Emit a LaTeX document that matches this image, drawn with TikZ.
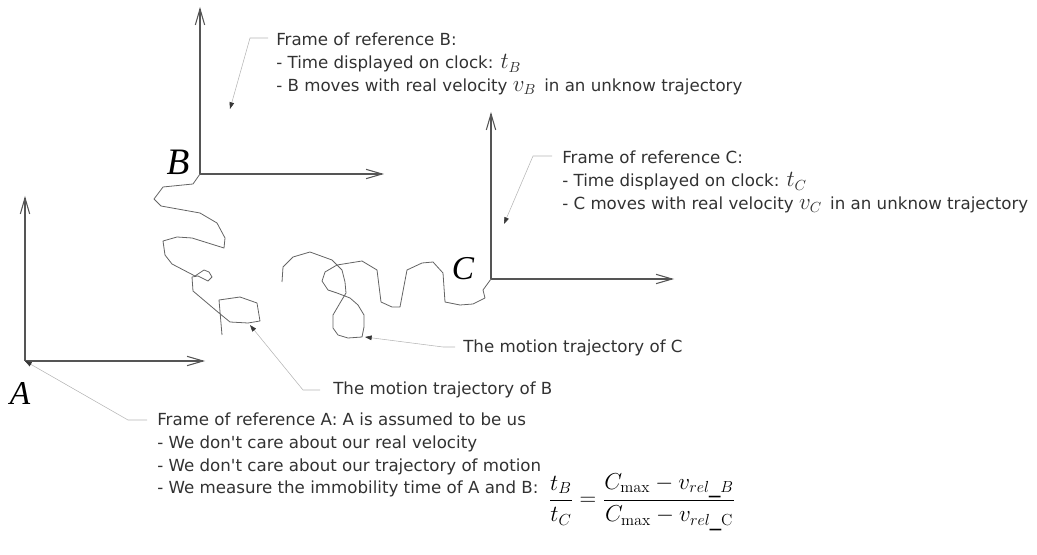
\documentclass[tikz,border=0pt]{standalone}
\usepackage[no-math]{fontspec}
\setmainfont{DejaVu Sans}
\newfontfamily\labelfont{Liberation Serif}
\usetikzlibrary{arrows.meta,positioning}
\definecolor{axisgray}{RGB}{85,85,85}
\definecolor{leadgray}{RGB}{180,180,180}
\definecolor{tipgray}{RGB}{55,55,55}
\definecolor{txtgray}{RGB}{50,50,50}
\definecolor{trajgray}{RGB}{100,100,100}
\newcommand{\notefont}{\fontsize{12.5}{17}\selectfont\lineskiplimit=-100pt\relax}
\newcommand{\bigsym}[1]{{\fontsize{16}{16}\selectfont$#1$}}

\begin{document}
\begin{tikzpicture}[x=0.75pt,y=-0.75pt,
    axis/.style={draw=axisgray,line width=0.8pt,-{Straight Barb[length=12pt,width=7pt]}},
    leader/.style={draw=leadgray,line width=0.4pt,{Triangle[length=5pt,width=3.5pt,color=tipgray]}-},
    trajectory/.style={draw=trajgray,line width=0.6pt,line join=round},
    note/.style={inner sep=0pt,align=left,text=txtgray,font=\notefont},
    framelabel/.style={inner sep=0pt,font=\labelfont\itshape\fontsize{25}{25}\selectfont}]
  \useasboundingbox (0,0) rectangle (1037,555);

  % Frame origins
  \coordinate (oA) at (25,361);
  \coordinate (oB) at (200,174);
  \coordinate (oC) at (491,279);

  % Axes
  \draw[axis] (oA) -- (25,196);
  \draw[axis] (oA) -- (205,361);
  \draw[axis] (oB) -- (200,7);
  \draw[axis] (oB) -- (384,174);
  \draw[axis] (oC) -- (491,112);
  \draw[axis] (oC) -- (674,279);

  % Frame labels
  \node[framelabel] (labA) at (20,393) {A};
  \node[framelabel,font=\labelfont\itshape\fontsize{28}{28}\selectfont] (labB) at (178,162) {B};
  \node[framelabel] (labC) at (463,269) {C};

  % Trajectory of B
  \draw[trajectory] (oB) -- (193,184) -- (163,187) -- (154,199) -- (161,206)
    -- (200,213) -- (217,223) -- (225,238) -- (224,248) -- (192,238)
    -- (177,237) -- (163,241) -- (165,255) -- (172,264) -- (195,276)
    -- (204,270) -- (209,272) -- (212,277) -- (208,281) -- (198,276)
    -- (192,277) -- (193,291) -- (219,313) -- (230,322) -- (248,323)
    -- (260,321) -- (257,303) -- (240,297) -- (219,300) -- (222,335);

  % Trajectory of C
  \draw[trajectory] (282,282) -- (283,267) -- (293,257) -- (310,252) -- (332,260)
    -- (342,270) -- (345,282) -- (346,293) -- (340,303) -- (333,315)
    -- (333,328) -- (338,335) -- (348,338) -- (362,337) -- (364,327)
    -- (364,315) -- (358,305) -- (350,298) -- (337,293) -- (328,290)
    -- (322,281) -- (325,272) -- (337,265) -- (362,261) -- (377,270)
    -- (381,302) -- (392,307) -- (400,307) -- (407,270) -- (422,263)
    -- (433,262) -- (443,273) -- (445,302) -- (460,305) -- (473,304)
    -- (485,298) -- (483,290) -- (oC);

  % Notes
  \node[note,anchor=north west] (noteB) at (276,33)
    {Frame of reference B:\\
     - Time displayed on clock: \bigsym{t_B}\\
     - B moves with real velocity \bigsym{v_B}\, in an unknow trajectory};
  \node[note,anchor=north west] (noteC) at (562,151)
    {Frame of reference C:\\
     - Time displayed on clock: \bigsym{t_C}\\
     - C moves with real velocity \bigsym{v_C}\, in an unknow trajectory};
  \node[note,anchor=north west] (noteA) at (157,413)
    {Frame of reference A: A is assumed to be us\\
     - We don\textquotesingle t care about our real velocity\\
     - We don\textquotesingle t care about our trajectory of motion\\
     - We measure the immobility time of A and B:};
  \node[note,anchor=west] (noteTC) at (463,348) {The motion trajectory of C};
  \node[note,anchor=west] (noteTB) at (333,390) {The motion trajectory of B};

  % Ratio of clock times
  \node[inner sep=0pt,font=\fontsize{17}{20}\selectfont] (ratio) at (642,502)
    {$\displaystyle \frac{t_B}{t_C} = \frac{C_{\max} - v_{rel\_B}}{C_{\max} - v_{rel\_\mathrm{C}}}$};

  % Leaders
  \coordinate (tipA) at (oA);
  \coordinate (tipB) at (230,109);
  \coordinate (tipC) at (504,224);
  \coordinate (tipTB) at (250,325);
  \coordinate (tipTC) at (365,337);
  \draw[leader] (tipA) -- (128,420) -- (147,420);
  \draw[leader] (tipB) -- (250,38) -- (268,38);
  \draw[leader] (tipC) -- (533,156) -- (552,156);
  \draw[leader] (tipTB) -- (303,390) -- (320,390);
  \draw[leader] (tipTC) -- (443,347) -- (455,347);
\end{tikzpicture}
\end{document}
